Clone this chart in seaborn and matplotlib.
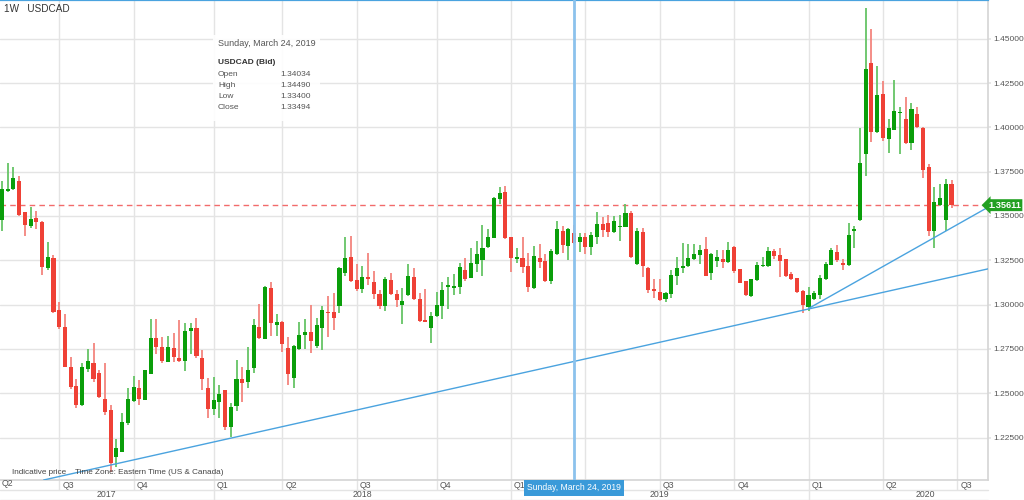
import numpy as np
import pandas as pd
import matplotlib
matplotlib.use("Agg")
import matplotlib.pyplot as plt
import seaborn as sns
from matplotlib.patches import Rectangle
from matplotlib.transforms import ScaledTranslation

# weekly USDCAD bid candles, week starting Sunday 2017-04-23
FIRST_WEEK = "2017-04-23"
opens = [
    1.3477, 1.3643, 1.3650, 1.3699, 1.3520, 1.3443, 1.3490, 1.3468, 1.3205, 1.3265,
    1.2970, 1.2875, 1.2650, 1.2540, 1.2431, 1.2636, 1.2668, 1.2616, 1.2465, 1.2405,
    1.2142, 1.2170, 1.2330, 1.2458, 1.2527, 1.2463, 1.2608, 1.2813, 1.2759, 1.2674,
    1.2753, 1.2700, 1.2683, 1.2851, 1.2866, 1.2697, 1.2531, 1.2409, 1.2452, 1.2518,
    1.2307, 1.2428, 1.2580, 1.2561, 1.2640, 1.2875, 1.2806, 1.3092, 1.2887, 1.2903,
    1.2757, 1.2587, 1.2747, 1.2826, 1.2847, 1.2766, 1.2866, 1.2960, 1.2956, 1.2992,
    1.3180, 1.3267, 1.3139, 1.3086, 1.3154, 1.3125, 1.3058, 1.2992, 1.3139, 1.3060,
    1.2996, 1.3054, 1.3157, 1.3031, 1.2913, 1.2866, 1.2935, 1.2993, 1.3101, 1.3092,
    1.3101, 1.3195, 1.3152, 1.3227, 1.3250, 1.3323, 1.3378, 1.3596, 1.3633, 1.3379,
    1.3255, 1.3265, 1.3218, 1.3092, 1.3265, 1.3246, 1.3135, 1.3283, 1.3415, 1.3331,
    1.34034, 1.3355, 1.3379, 1.3327, 1.3379, 1.3455, 1.3462, 1.3411, 1.3438, 1.3440,
    1.3515, 1.3229, 1.3411, 1.3205, 1.3086, 1.3073, 1.3031, 1.3060, 1.3163, 1.3208,
    1.3218, 1.3257, 1.3280, 1.3314, 1.3176, 1.3246, 1.3255, 1.3238, 1.3323, 1.3201,
    1.3133, 1.3050, 1.3137, 1.3218, 1.3218, 1.3301, 1.3278, 1.3256, 1.3175, 1.3150,
    1.3075, 1.2987, 1.3034, 1.3056, 1.3143, 1.3226, 1.3297, 1.3236, 1.3223, 1.3418,
    1.3475, 1.3851, 1.4361, 1.3973, 1.4186, 1.3932, 1.3988, 1.4079, 1.4049, 1.3913,
    1.4073, 1.3998, 1.3776, 1.3418, 1.3561, 1.3475, 1.3682,
]
highs = [
    1.3697, 1.3797, 1.3774, 1.3727, 1.3522, 1.3549, 1.3528, 1.3470, 1.3351, 1.3280,
    1.3016, 1.2945, 1.2702, 1.2578, 1.2668, 1.2749, 1.2781, 1.2631, 1.2668, 1.2433,
    1.2239, 1.2390, 1.2531, 1.2597, 1.2574, 1.2633, 1.2917, 1.2917, 1.2819, 1.2823,
    1.2838, 1.2913, 1.2894, 1.2894, 1.2923, 1.2744, 1.2584, 1.2593, 1.2546, 1.2520,
    1.2443, 1.2687, 1.2650, 1.2762, 1.2917, 1.3003, 1.3105, 1.3129, 1.2945, 1.2905,
    1.2819, 1.2770, 1.2903, 1.2917, 1.2998, 1.2926, 1.2992, 1.3050, 1.3067, 1.3210,
    1.3383, 1.3387, 1.3227, 1.3218, 1.3289, 1.3190, 1.3082, 1.3157, 1.3176, 1.3082,
    1.3092, 1.3227, 1.3205, 1.3063, 1.3086, 1.2956, 1.3069, 1.3129, 1.3157, 1.3172,
    1.3233, 1.3261, 1.3317, 1.3361, 1.3449, 1.3425, 1.3609, 1.3662, 1.3669, 1.3380,
    1.3317, 1.3379, 1.3289, 1.3332, 1.3340, 1.3283, 1.3312, 1.3472, 1.3443, 1.3434,
    1.34490, 1.3406, 1.3402, 1.3408, 1.3524, 1.3496, 1.3505, 1.3500, 1.3505, 1.3566,
    1.3528, 1.3434, 1.3434, 1.3214, 1.3142, 1.3142, 1.3069, 1.3195, 1.3267, 1.3346,
    1.3340, 1.3340, 1.3336, 1.3379, 1.3289, 1.3308, 1.3308, 1.3351, 1.3332, 1.3203,
    1.3135, 1.3146, 1.3241, 1.3269, 1.3325, 1.3312, 1.3320, 1.3258, 1.3184, 1.3152,
    1.3081, 1.3100, 1.3075, 1.3169, 1.3241, 1.3320, 1.3335, 1.3255, 1.3462, 1.3443,
    1.3998, 1.4671, 1.4558, 1.4346, 1.4261, 1.4045, 1.4267, 1.4114, 1.4171, 1.4139,
    1.4114, 1.4005, 1.3796, 1.3665, 1.3682, 1.3710, 1.3702,
]
lows = [
    1.3415, 1.3637, 1.3647, 1.3502, 1.3389, 1.3430, 1.3425, 1.3167, 1.3195, 1.2950,
    1.2862, 1.2650, 1.2522, 1.2414, 1.2428, 1.2621, 1.2561, 1.2471, 1.2377, 1.2057,
    1.2085, 1.2170, 1.2320, 1.2452, 1.2433, 1.2460, 1.2608, 1.2719, 1.2668, 1.2674,
    1.2674, 1.2678, 1.2625, 1.2719, 1.2700, 1.2518, 1.2358, 1.2377, 1.2358, 1.2292,
    1.2251, 1.2401, 1.2452, 1.2527, 1.2616, 1.2806, 1.2804, 1.2824, 1.2824, 1.2734,
    1.2546, 1.2527, 1.2745, 1.2750, 1.2729, 1.2753, 1.2744, 1.2819, 1.2856, 1.2954,
    1.3161, 1.3130, 1.3078, 1.3067, 1.3110, 1.3031, 1.2973, 1.2964, 1.3054, 1.2988,
    1.2890, 1.3050, 1.3026, 1.2903, 1.2900, 1.2785, 1.2931, 1.2917, 1.2973, 1.3054,
    1.3060, 1.3133, 1.3148, 1.3186, 1.3163, 1.3317, 1.3374, 1.3568, 1.3370, 1.3182,
    1.3233, 1.3180, 1.3073, 1.3086, 1.3205, 1.3130, 1.3114, 1.3279, 1.3289, 1.3250,
    1.33400, 1.3299, 1.3283, 1.3280, 1.3340, 1.3379, 1.3383, 1.3402, 1.3359, 1.3436,
    1.3265, 1.3223, 1.3157, 1.3063, 1.3035, 1.3020, 1.3016, 1.3035, 1.3110, 1.3176,
    1.3214, 1.3250, 1.3229, 1.3161, 1.3139, 1.3214, 1.3208, 1.3236, 1.3176, 1.3120,
    1.3050, 1.3045, 1.3135, 1.3212, 1.3212, 1.3259, 1.3156, 1.3156, 1.3137, 1.3068,
    1.2955, 1.2962, 1.3028, 1.3034, 1.3137, 1.3222, 1.3241, 1.3198, 1.3217, 1.3317,
    1.3471, 1.3725, 1.3917, 1.3970, 1.3926, 1.3857, 1.3985, 1.3851, 1.3909, 1.3875,
    1.3998, 1.3716, 1.3386, 1.3317, 1.3556, 1.3415, 1.3543,
]
closes = [
    1.3650, 1.3650, 1.3712, 1.3505, 1.3449, 1.3483, 1.3468, 1.3210, 1.3270, 1.2960,
    1.2875, 1.2650, 1.2533, 1.2431, 1.2650, 1.2681, 1.2582, 1.2477, 1.2396, 1.2104,
    1.2192, 1.2339, 1.2467, 1.2533, 1.2465, 1.2631, 1.2809, 1.2762, 1.2683, 1.2762,
    1.2702, 1.2681, 1.2851, 1.2870, 1.2712, 1.2580, 1.2411, 1.2461, 1.2495, 1.2311,
    1.2424, 1.2580, 1.2559, 1.2631, 1.2885, 1.2809, 1.3101, 1.2894, 1.2900, 1.2776,
    1.2606, 1.2766, 1.2828, 1.2847, 1.2794, 1.2885, 1.2969, 1.2950, 1.2922, 1.3205,
    1.3261, 1.3133, 1.3088, 1.3154, 1.3142, 1.3060, 1.2992, 1.3142, 1.3058, 1.3026,
    1.3019, 1.3163, 1.3031, 1.2907, 1.2903, 1.2937, 1.3000, 1.3085, 1.3110, 1.3105,
    1.3214, 1.3142, 1.3233, 1.3285, 1.3317, 1.3383, 1.3603, 1.3631, 1.3374, 1.3265,
    1.3267, 1.3214, 1.3101, 1.3276, 1.3242, 1.3133, 1.3302, 1.3425, 1.3336, 1.3426,
    1.33494, 1.3383, 1.3327, 1.3393, 1.3455, 1.3421, 1.3411, 1.3472, 1.3443, 1.3519,
    1.3267, 1.3415, 1.3218, 1.3082, 1.3077, 1.3026, 1.3063, 1.3167, 1.3205, 1.3218,
    1.3261, 1.3285, 1.3308, 1.3163, 1.3285, 1.3267, 1.3238, 1.3308, 1.3191, 1.3124,
    1.3054, 1.3144, 1.3226, 1.3222, 1.3301, 1.3274, 1.3244, 1.3162, 1.3147, 1.3071,
    1.2996, 1.3052, 1.3068, 1.3150, 1.3231, 1.3306, 1.3250, 1.3223, 1.3390, 1.3424,
    1.3800, 1.4327, 1.3973, 1.4182, 1.3941, 1.3998, 1.4092, 1.4086, 1.3913, 1.4105,
    1.4002, 1.3759, 1.3415, 1.3578, 1.3603, 1.3682, 1.35611,
]

# trend lines as (week index, price) anchors
trend_long_idx = [20, 140]
trend_long_px = [1.2102, 1.2968]
trend_short_idx = [141, 165]
trend_short_px = [1.2978, 1.3415]

price_ticks = [1.225, 1.25, 1.275, 1.30, 1.325, 1.35, 1.375, 1.40, 1.425, 1.45]
years = ["2017", "2018", "2019", "2020"]
hover_idx = 100
hover_label = "Sunday, March 24, 2019"
last_price = 1.35611

GREEN, GREEN_W = "#0a9e0a", "#66c466"
RED, RED_W = "#ef4136", "#f3857e"
BLUE = "#4aa3df"
GRID = "#e4e4e4"
TXT = "#555555"

df = pd.DataFrame({"open": opens, "high": highs, "low": lows, "close": closes})
df["date"] = pd.date_range(FIRST_WEEK, periods=len(df), freq="7D")
df["i"] = np.arange(len(df))
df["up"] = df["close"] >= df["open"]

sns.set_theme(style="whitegrid")
plt.rcParams["font.family"] = ["Liberation Sans", "DejaVu Sans"]

W, H = 1024, 500
AX_W, AX_H = 988, 480
STEP = 5.72  # px per week
fig = plt.figure(figsize=(W / 100, H / 100), dpi=100)
ax = fig.add_axes([0, (H - AX_H) / H, AX_W / W, AX_H / H])

x_left = -2 / STEP
x_right = (AX_W - 2) / STEP
ax.set_xlim(x_left, x_right)
ax.set_ylim(1.20102, 1.47189)


def frac(px, py):
    return px / AX_W, 1 - py / AX_H


# candles
for up, wick_c, body_c in [(True, GREEN_W, GREEN), (False, RED_W, RED)]:
    d = df[df["up"] == up]
    ax.vlines(d["i"], d["low"], d["high"], color=wick_c, lw=1.3, zorder=3)
    body = (d["close"] - d["open"]).abs().clip(lower=0.0005)
    ax.bar(d["i"], body, bottom=d[["open", "close"]].min(axis=1), width=0.72,
           color=body_c, lw=0, zorder=4)

# trend lines
ax.axline((trend_long_idx[0], trend_long_px[0]), (trend_long_idx[1], trend_long_px[1]),
          color=BLUE, lw=1.0, zorder=5)
slope = (trend_short_px[1] - trend_short_px[0]) / (trend_short_idx[1] - trend_short_idx[0])
ax.plot([trend_short_idx[0], x_right],
        [trend_short_px[0], trend_short_px[0] + slope * (x_right - trend_short_idx[0])],
        color=BLUE, lw=1.0, zorder=5)

# last price
ax.axhline(last_price, color="#f26b6b", lw=1, ls=(0, (4, 3)), zorder=2)
ax.text(1.0, last_price, f"{last_price:.5f}", transform=ax.get_yaxis_transform(),
        ha="left", va="center", fontsize=6.6, fontweight="bold", color="white",
        bbox=dict(boxstyle="larrow,pad=0.16", fc="#22a022", ec="none"),
        clip_on=False, zorder=10)

# crosshair
ax.axvline(hover_idx, color="#8cc2ec", lw=2, zorder=6)
ax.vlines(hover_idx, -0.02, 0, transform=ax.get_xaxis_transform(),
          color="#8cc2ec", lw=2, clip_on=False, zorder=6)

# quarter grid / labels (grid sits on the first weekly candle of each quarter)
q_starts = pd.date_range("2017-07-01", "2020-07-01", freq="QS")
q_pos = [((q + pd.Timedelta(days=(6 - q.weekday()) % 7)) - df["date"][0]).days / 7
         for q in q_starts]
tag_half = 8.5  # the date tag hides quarter labels underneath it
q_labels = ["" if abs(p + 0.5 - hover_idx) < tag_half else f"Q{q.quarter}"
            for p, q in zip(q_pos, q_starts)]
ax.set_xticks(q_pos, q_labels)
ax.set_yticks(price_ticks, [f"{p:.5f}" for p in price_ticks])
ax.yaxis.tick_right()
ax.grid(True, color=GRID, lw=1)
ax.tick_params(axis="x", length=0, pad=1, labelsize=6.3, labelcolor=TXT)
ax.tick_params(axis="y", length=2, color=GRID, pad=1.5, labelsize=6.0, labelcolor=TXT)
off = ScaledTranslation(3 / 100, 0, fig.dpi_scale_trans)
for lbl in ax.get_xticklabels():
    lbl.set_horizontalalignment("left")
    lbl.set_transform(lbl.get_transform() + off)
ax.text(*frac(2, 484), "Q2", transform=ax.transAxes, ha="left", va="center",
        fontsize=6.3, color=TXT, clip_on=False)
ax.vlines(q_pos, -9.5 / AX_H, 0, transform=ax.get_xaxis_transform(),
          color=GRID, lw=1, clip_on=False)

# year row
year_pos = [p for p, q in zip(q_pos, q_starts) if q.quarter == 1]
year_edges = [x_left] + year_pos + [x_left + 1042 / STEP]
for k, yr in enumerate(years):
    ax.text((year_edges[k] + year_edges[k + 1]) / 2, -14.5 / AX_H, yr,
            transform=ax.get_xaxis_transform(), ha="center", va="center",
            fontsize=6.3, color=TXT, clip_on=False)
ax.vlines(year_pos, -20 / AX_H, -9.5 / AX_H, transform=ax.get_xaxis_transform(),
          color=GRID, lw=1, clip_on=False)
for yy in [-9.5 / AX_H, -19.5 / AX_H]:
    ax.plot([0, 1], [yy, yy], transform=ax.transAxes, color=GRID, lw=1, clip_on=False)

# spines
ax.spines["left"].set_visible(False)
ax.spines["right"].set_color("#d6d6d6")
ax.spines["bottom"].set_color("#d6d6d6")
ax.spines["top"].set_color(BLUE)
ax.spines["top"].set_linewidth(1.6)

# date tag under crosshair
ax.text(hover_idx, -8 / AX_H, hover_label, transform=ax.get_xaxis_transform(),
        ha="center", va="center", fontsize=6.2, color="white",
        bbox=dict(boxstyle="square,pad=0.35", fc="#3a9ad9", ec="none"),
        clip_on=False, zorder=11)

# header and footer text
ax.text(*frac(4, 9), "1W   USDCAD", transform=ax.transAxes, ha="left", va="center",
        fontsize=7.2, color="#333333")
ax.text(*frac(12, 472), "Indicative price    Time Zone: Eastern Time (US & Canada)",
        transform=ax.transAxes, ha="left", va="center", fontsize=5.9, color="#444444",
        zorder=7)

# hover tooltip
bx, by = frac(213, 121)
ax.add_patch(Rectangle((bx, by), 107 / AX_W, 86 / AX_H, transform=ax.transAxes,
                       fc="white", ec="none", alpha=0.9, zorder=8))
ax.text(*frac(218, 44), hover_label, transform=ax.transAxes, ha="left", va="center",
        fontsize=6.5, color="#555555", zorder=9)
ax.text(*frac(218, 62), "USDCAD (Bid)", transform=ax.transAxes, ha="left", va="center",
        fontsize=6.0, fontweight="bold", color="#333333", zorder=9)
row = df.iloc[hover_idx]
for k, (name, col) in enumerate([("Open", "open"), ("High", "high"),
                                 ("Low", "low"), ("Close", "close")]):
    ty = 74 + k * 11.3
    ax.text(*frac(218, ty), name, transform=ax.transAxes, ha="left", va="center",
            fontsize=6.0, color="#555555", zorder=9)
    ax.text(*frac(280, ty), f"{row[col]:.5f}", transform=ax.transAxes, ha="left",
            va="center", fontsize=6.0, color="#555555", zorder=9)

fig.savefig("out.png", dpi=100, facecolor="white")
